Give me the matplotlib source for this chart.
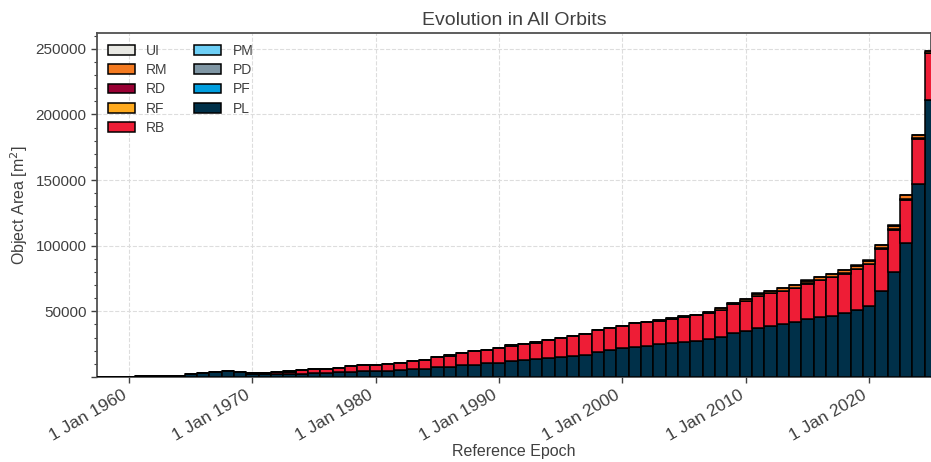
import datetime as dt
import matplotlib
matplotlib.use("Agg")
import matplotlib.pyplot as plt
import matplotlib.dates as mdates
from matplotlib.ticker import FuncFormatter, MultipleLocator
from matplotlib.patches import Patch

plt.rcParams['font.family'] = ['Liberation Sans', 'DejaVu Sans']

years = list(range(1957, 2026))

# Object area per class [m^2]
PL = [0, 0, 0, 0, 400, 500, 500, 600, 2400, 3000, 3700, 4300, 3600, 2600, 2200, 2000,
      2300, 2300, 2800, 3000, 3500, 4000, 4500, 4400, 4700, 5000, 5800, 6200, 7300, 7700,
      8800, 9300, 10300, 10800, 12300, 12800, 13600, 14400, 15100, 15900, 16600, 19200,
      20400, 21700, 23000, 23700, 25000, 26000, 26500, 27300, 28800, 30100, 33600, 34900,
      37200, 39000, 40700, 42000, 44000, 45800, 46600, 48800, 50900, 53900, 65300, 80000,
      102100, 146800, 210700]
RB = [0, 0, 0, 0, 0, 0, 0, 0, 200, 300, 300, 400, 400, 400, 600, 1500,
      1800, 2700, 3000, 3000, 3200, 4300, 4500, 4700, 5000, 5700, 6300, 6900, 7600, 8500,
      9200, 10200, 10400, 11000, 11500, 12000, 12500, 13500, 14300, 15400, 16100, 16800,
      17100, 17300, 18300, 18100, 17800, 18500, 19300, 19600, 20300, 21300, 21900, 23100,
      24300, 24600, 24900, 26000, 27200, 27900, 29200, 30000, 31200, 31800, 32500, 32200,
      33000, 34700, 35800]
RF = [0] * 54 + [150] * 15
RD = ([0] * 13 + [200, 200, 500, 600, 500, 300, 300, 300, 300, 300, 300, 300, 300]
      + [200] * 11 + [0] * 32)
RM = ([0] * 46 + [300, 300, 400, 500, 600, 900, 1100, 1500]
      + [1800, 1900, 2000, 2100, 2100, 2300, 2300, 2400, 2600, 2800, 2700, 2900, 3200, 2400, 1400])
UI = [0] * 54 + [150] * 15
PM = [0] * len(years)
PD = [0] * len(years)
PF = [0] * len(years)

classes = ['PL', 'PF', 'PD', 'PM', 'RB', 'RF', 'RD', 'RM', 'UI']
series = [PL, PF, PD, PM, RB, RF, RD, RM, UI]
colors = {'PL': '#003049', 'PF': '#009EDF', 'PD': '#7F96A4', 'PM': '#6DCFF6',
          'RB': '#EE1D36', 'RF': '#FFAA1E', 'RD': '#990033', 'RM': '#F47A20',
          'UI': '#E8E8E3'}

text_col = '#404040'
fig = plt.figure(figsize=(9.31, 4.62), dpi=100)
ax = fig.add_axes([0.1042, 0.184, 0.8958, 0.7446])

x = [mdates.date2num(dt.datetime(y, 1, 1)) for y in years]
bottom = [0.0] * len(years)
for name, vals in zip(classes, series):
    ax.bar(x, vals, width=365, bottom=bottom, color=colors[name],
           edgecolor='black', linewidth=1.1, align='center', zorder=3)
    bottom = [b + v for b, v in zip(bottom, vals)]

ax.set_xlim(mdates.date2num(dt.datetime(1957, 5, 28)), mdates.date2num(dt.datetime(2025, 1, 8)))
ax.set_ylim(0, 262000)

ax.xaxis.set_major_locator(mdates.YearLocator(10))
ax.xaxis.set_major_formatter(FuncFormatter(
    lambda v, p: (lambda d: f"{d.day} {d.strftime('%b %Y')}")(mdates.num2date(v))))
ax.yaxis.set_major_locator(MultipleLocator(50000))
ax.yaxis.set_minor_locator(MultipleLocator(10000))
ax.yaxis.set_major_formatter(FuncFormatter(lambda v, p: '' if v == 0 else f"{int(v)}"))

ax.tick_params(axis='y', which='major', labelsize=11, colors=text_col, length=4, width=1)
ax.tick_params(axis='x', which='major', labelsize=12.5, colors=text_col, length=4, width=1)
ax.tick_params(axis='y', which='minor', length=2.5, width=0.8, colors=text_col)
plt.setp(ax.get_xticklabels(), rotation=30, ha='right')
ax.grid(True, which='major', linestyle='--', color='#DDDDDD', linewidth=0.8, zorder=0)
ax.set_axisbelow(True)
for s in ['left', 'bottom', 'top', 'right']:
    ax.spines[s].set_color('#505050')
    ax.spines[s].set_linewidth(1.3)

ax.set_title('Evolution in All Orbits', fontsize=14, color=text_col, pad=6)
ax.set_xlabel('Reference Epoch', fontsize=11.5, color=text_col, labelpad=0)
ax.set_ylabel('Object Area [m$^2$]', fontsize=11.5, color=text_col)

legend_order = ['UI', 'RM', 'RD', 'RF', 'RB', 'PM', 'PD', 'PF', 'PL']
handles = [Patch(facecolor=colors[n], edgecolor='black', linewidth=1.1, label=n)
           for n in legend_order]
leg = ax.legend(handles=handles, ncol=2, loc='upper left', frameon=False, fontsize=10,
                handlelength=1.95, handleheight=0.72, labelspacing=0.37,
                handletextpad=0.8, columnspacing=1.9, borderaxespad=0.4)
for t in leg.get_texts():
    t.set_color(text_col)

fig.savefig('out.png', dpi=100)
